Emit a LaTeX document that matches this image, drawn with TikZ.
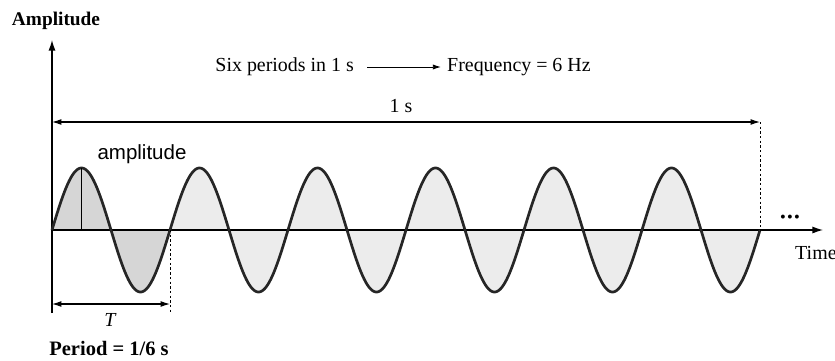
\documentclass[tikz,border=0pt]{standalone}
\usepackage{fontspec}
\setmainfont{Liberation Serif}
\newfontfamily\sansf{Liberation Sans}
\usetikzlibrary{arrows.meta,calc}
\begin{document}
\begin{tikzpicture}[x=0.3mm,y=-0.3mm,
  lbl/.style={inner sep=0pt,font=\fontsize{17}{19}\selectfont},
  axis/.style={line width=1.1pt,-{Latex[length=9pt,width=6pt]}},
  dim/.style={line width=0.9pt,{Latex[length=8pt,width=5pt]}-{Latex[length=8pt,width=5pt]}},
  wave/.style={line width=2.3pt,black!85},
  dashln/.style={line width=0.8pt,dash pattern=on 2pt off 2pt}]
\useasboundingbox (0,0) rectangle (835,360);
\clip (0,0) rectangle (835,360);
% coordinates
\coordinate (O) at (52,230);
\coordinate (ytop) at (52,40);
\coordinate (ybot) at (52,313);
\coordinate (xend) at (823,230);
\coordinate (one0) at (52,122);
\coordinate (one) at (760,122);
\coordinate (oneax) at (760,230);
\coordinate (T0) at (52,304);
\coordinate (T1) at (170,304);
\coordinate (Tax) at (170,230);
\coordinate (Tbot) at (170,313);
\coordinate (pk) at (81.5,168);
\coordinate (pkax) at (81.5,230);
\coordinate (ar0) at (367,67);
\coordinate (ar1) at (441,67);
% fills
\fill[gray!32] plot[domain=52:170,samples=120] (\x,{230-62*sin(3.050847*(\x-52))}) -- cycle;
\fill[gray!15] plot[domain=170:760,samples=500] (\x,{230-62*sin(3.050847*(\x-52))}) -- cycle;
% axes
\draw[axis] (ybot) -- (ytop);
\draw[axis] (O) -- (xend);
% wave
\draw[wave] plot[domain=52:760,samples=700] (\x,{230-62*sin(3.050847*(\x-52))});
\draw[line width=1.1pt] (pkax) -- (pk);
% dimension lines
\draw[dim] (one0) -- (one);
\draw[dashln] (one) -- (oneax);
\draw[dim] (T0) -- (T1);
\draw[dashln] (Tax) -- (Tbot);
% texts
\node[lbl,font=\bfseries\fontsize{16.5}{19}\selectfont] (amp) at (56,21) {Amplitude};
\node[lbl,anchor=east] (six) at (354,67) {Six periods in 1 s};
\node[lbl,anchor=west] (freq) at (447,67) {Frequency = 6 Hz};
\draw[line width=0.8pt,-{Latex[length=7pt,width=4.5pt]}] (ar0) -- (ar1);
\node[lbl] (ones) at (401,106) {1 s};
\node[lbl,font=\sansf\fontsize{17.5}{19}\selectfont] (ampl) at (142,154) {amplitude};
\node[lbl,font=\itshape\fontsize{17}{19}\selectfont] (Tl) at (110,320) {T};
\node[lbl,font=\bfseries\fontsize{17.5}{19}\selectfont] (per) at (109,348) {Period = 1/6 s};
\node[lbl,anchor=west] (time) at (795,253) {Time};
\node[lbl,font=\fontsize{14}{14}\selectfont] (dots) at (790,219) {\textbullet\hspace{1pt}\textbullet\hspace{1pt}\textbullet};
\end{tikzpicture}
\end{document}
